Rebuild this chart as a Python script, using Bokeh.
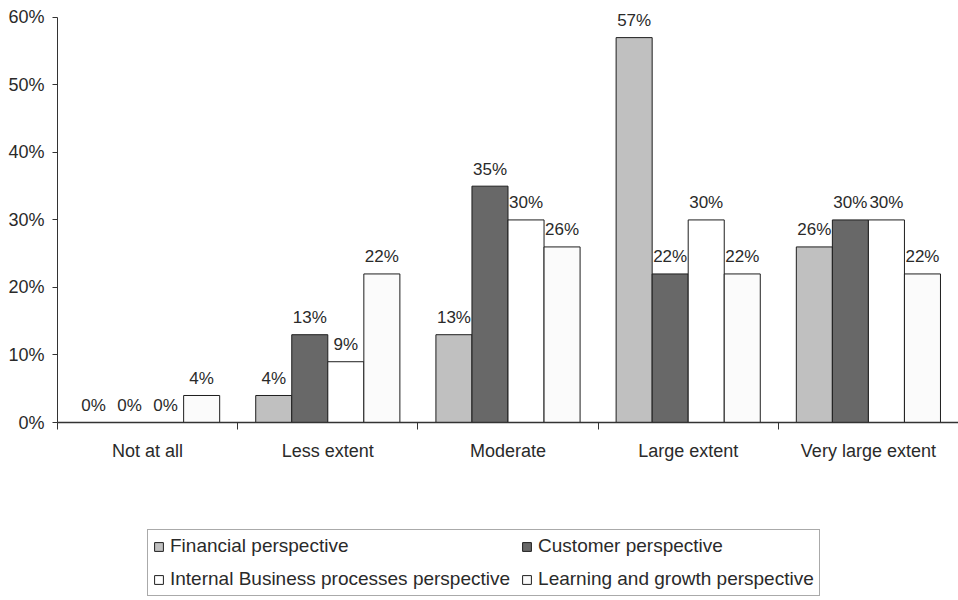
from bokeh.plotting import figure
from bokeh.layouts import column
from bokeh.models import (ColumnDataSource, FixedTicker, PrintfTickFormatter,
                          Range1d, Legend, LegendItem)
from bokeh.transform import dodge
from bokeh.core.properties import value
from bokeh.embed import file_html
from bokeh.resources import INLINE

# Share of respondents (%) per extent of use, one list per BSC perspective
categories = ["Not at all", "Less extent", "Moderate", "Large extent", "Very large extent"]
financial = [0, 4, 13, 57, 26]
customer = [0, 13, 35, 22, 30]
internal = [0, 9, 30, 30, 30]
learning = [4, 22, 26, 22, 22]
series_names = ["Financial perspective", "Customer perspective",
                "Internal Business processes perspective",
                "Learning and growth perspective"]
y_ticks = [0, 10, 20, 30, 40, 50, 60]

FONT = "Liberation Sans"
TEXT = "#2a2a2a"
EDGE = "#1e1e1e"

centers = [i + 0.5 for i in range(len(categories))]
series = [financial, customer, internal, learning]
keys = ["fin", "cus", "int", "lea"]
fills = ["#c0c0c0", "#686868", "#ffffff", "#fbfbfb"]
offsets = [-0.3, -0.1, 0.1, 0.3]
bar_w = 0.2

data = {"x": centers}
for k, vals in zip(keys, series):
    data[k] = vals
    data[k + "_lbl"] = [f"{v}%" for v in vals]
source = ColumnDataSource(data)

# ---- main bar chart ----
p = figure(width=958, height=470,
           x_range=Range1d(0, len(categories)), y_range=Range1d(0, 62.2),
           output_backend="svg", toolbar_location=None,
           min_border_left=57, min_border_right=0,
           min_border_top=2, min_border_bottom=48)
p.outline_line_color = None
p.grid.visible = False
p.background_fill_color = "white"
p.border_fill_color = "white"

for k, off, col in zip(keys, offsets, fills):
    p.vbar(x=dodge("x", off, range=p.x_range), top=k, width=bar_w,
           source=source, fill_color=col, line_color=EDGE, line_width=1)
    p.text(x=dodge("x", off, range=p.x_range), y=k, text=k + "_lbl",
           source=source, text_align="center", text_baseline="alphabetic",
           y_offset=-17, text_font=value(FONT), text_font_size="17px",
           text_color=TEXT)

# y axis: percent ticks, line limited to 0-60
ya = p.yaxis[0]
ya.ticker = FixedTicker(ticks=y_ticks)
ya.formatter = PrintfTickFormatter(format="%d%%")
ya.bounds = (0, 60)
ya.minor_tick_line_color = None
ya.major_tick_out = 5
ya.major_tick_in = 0
ya.axis_line_color = "#333333"
ya.major_tick_line_color = "#333333"
ya.major_label_text_font = FONT
ya.major_label_text_font_size = "18px"
ya.major_label_text_color = TEXT
ya.major_label_standoff = 8

# x axis: labels at group centres, ticks at group boundaries
xa = p.xaxis[0]
xa.ticker = FixedTicker(ticks=centers,
                        minor_ticks=list(range(len(categories) + 1)))
xa.major_label_overrides = {c: name for c, name in zip(centers, categories)}
xa.major_tick_line_color = None
xa.major_tick_out = 0
xa.major_tick_in = 0
xa.minor_tick_out = 7
xa.minor_tick_in = 0
xa.minor_tick_line_color = "#333333"
xa.axis_line_color = "#333333"
xa.axis_line_width = 1.5
xa.major_label_text_font = FONT
xa.major_label_text_font_size = "18px"
xa.major_label_text_color = TEXT
xa.major_label_standoff = 11

# ---- legend strip under the chart ----
leg = figure(width=958, height=130, x_range=Range1d(0, 1), y_range=Range1d(0, 1),
             output_backend="svg", toolbar_location=None,
             x_axis_type=None, y_axis_type=None,
             min_border_left=0, min_border_right=0,
             min_border_top=0, min_border_bottom=0)
leg.outline_line_color = None
leg.grid.visible = False
leg.border_fill_color = "white"

# swatch renderers sit outside the visible range; only their legend glyphs show
swatches = {}
for name, col in zip(series_names, fills):
    swatches[name] = leg.vbar(x=[5], top=[0], width=0.1, fill_color=col,
                              line_color=EDGE, line_width=1)

# two columns filled top-down: Financial/Internal, then Customer/Learning
order = [series_names[0], series_names[2], series_names[1], series_names[3]]
legend = Legend(
    items=[LegendItem(label=n, renderers=[swatches[n]]) for n in order],
    ncols=2, location=(90, 4),
    label_text_font=FONT, label_text_font_size="19px", label_text_color=TEXT,
    glyph_width=11, glyph_height=11, label_standoff=6, label_height=22,
    padding=5, spacing=11, margin=0,
    border_line_color="#555555", border_line_width=1,
    background_fill_color="white", background_fill_alpha=1.0)
leg.add_layout(legend)

page = column(p, leg, spacing=0)
open("out.html", "w").write(file_html(page, INLINE))
